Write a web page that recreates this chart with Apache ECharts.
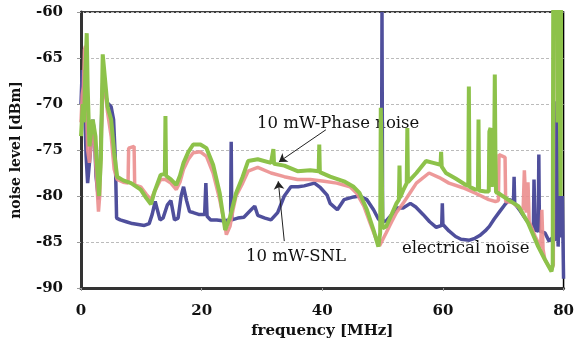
<!DOCTYPE html>
<html><head><meta charset="utf-8">
<script src="https://cdn.jsdelivr.net/npm/echarts@6/dist/echarts.min.js"></script>
<style>html,body{margin:0;padding:0;background:#fff}#c{width:577px;height:347px}</style>
</head><body><div id="c"></div>
<script>
const xTicks = [0, 20, 40, 60, 80];
const yTicks = [-90, -85, -80, -75, -70, -65, -60];

// electrical noise (blue)
const elecF = [0,0.2,0.4,0.6,0.85,1.1,1.4,1.7,1.95,2.2,2.5,2.9,3.2,3.6,3.9,4.4,5.0,5.4,5.7,5.9,6.5,7.5,8.5,9.5,10.5,11.3,11.8,12.3,12.6,13.1,13.6,14.3,14.9,15.5,16.1,16.6,17.0,17.5,18.0,18.6,19.5,20.5,20.7,20.9,21.5,22.5,23.5,24.8,24.9,25.0,26,27,28.2,28.8,29.3,30.5,31.5,32.6,33.7,34.8,36,37,38.7,39.7,40.8,41.3,42.5,43.6,45.2,46.2,47.4,48.5,49.3,49.8,49.9,50.0,50.6,51.8,52.3,53.4,54.6,55.5,56.7,57.8,58.9,59.8,59.9,60.0,61,62.1,63,64.4,65.3,66.1,67,67.7,68.5,69.4,70.2,71,71.7,71.8,71.9,72.8,73.6,74.5,75.0,75.1,75.3,75.8,75.9,76.0,76.9,77.6,78.2,78.7,78.9,79.1,79.3,79.6,79.8,80];
const elecV = [-70,-66.3,-68,-70.6,-75.7,-78.6,-76.4,-74,-71.7,-73,-77.9,-80.4,-76,-67.7,-68.5,-69.9,-70.3,-71.7,-76.1,-82.4,-82.6,-82.8,-83.0,-83.1,-83.2,-83.0,-82,-80.6,-80.4,-82.6,-82.4,-81,-80.5,-82.6,-82.4,-80,-79,-80.5,-81.7,-81.8,-82,-82,-78.6,-82.2,-82.6,-82.6,-82.7,-82.6,-74.1,-82.6,-82.4,-82.3,-81.5,-81.1,-82.1,-82.4,-82.6,-81.8,-80.0,-79.0,-79.0,-78.9,-78.6,-79.1,-79.9,-80.8,-81.5,-80.4,-80.1,-80.0,-80.4,-81.5,-82.5,-82.8,-60,-82.8,-82.7,-81.8,-81.3,-81.3,-80.8,-81.2,-82.0,-82.8,-83.4,-83.2,-80.8,-83.1,-83.8,-84.4,-84.7,-84.8,-84.6,-84.3,-83.8,-83.3,-82.5,-81.7,-81,-80.4,-80.6,-77.9,-80.8,-81.6,-82.4,-83.2,-83.4,-78.2,-83.7,-83.8,-75.5,-83.8,-84.0,-84.9,-84.5,-84.8,-69.7,-85.5,-80,-84.5,-80,-89];

// 10 mW-SNL (red)
const snlF = [0,0.2,0.4,0.57,0.75,0.9,1.1,1.4,1.7,1.95,2.2,2.5,2.9,3.1,3.6,4.0,4.4,5.0,5.5,6.0,7.0,7.8,7.9,8.8,8.9,9.9,10.8,11.6,12.2,13.2,14.0,14.9,15.8,16.4,17.0,17.8,18.6,19.8,20.8,21.9,23.0,23.9,24.1,24.7,25.2,25.7,26.8,27.7,29.3,31.5,33.7,35.9,38,40.3,42.4,44.6,45.7,46.9,47.9,49.0,49.5,50.6,51.5,52.3,53.4,54.5,55.6,57.7,59.4,61,63.3,65.4,67.6,68.7,69.2,69.3,70.3,70.4,71.5,72.5,73.3,73.5,73.8,74.1,74.3,75.3,76.2,76.4,76.6,76.9,77.5,78.0,78.3,78.4,78.8];
const snlV = [-72,-69,-68.1,-64.1,-63.7,-70,-75,-76.4,-74,-72,-73.5,-77.1,-81.7,-80,-68.1,-68.5,-70.9,-73.5,-77.1,-78.2,-78.5,-78.6,-74.8,-74.6,-78.8,-79.0,-79.8,-80.4,-79.5,-78.2,-78.2,-78.6,-79.3,-78.5,-77.1,-76,-75.3,-75.2,-75.7,-77.5,-80.4,-83.3,-84.2,-83.3,-81.5,-80.0,-78.6,-77.3,-76.9,-77.5,-77.9,-78.2,-78.2,-78.4,-78.6,-79.0,-79.7,-81.1,-82.9,-84.8,-85.4,-84.0,-82.8,-81.8,-80.8,-79.7,-78.6,-77.5,-78.0,-78.6,-79.1,-79.7,-80.4,-80.6,-80.5,-75.5,-75.8,-80.6,-80.7,-81.2,-81.5,-77.2,-81.8,-78.5,-82.8,-84.4,-85.6,-81.5,-85.8,-86.9,-87.6,-88.0,-87.5,-55,-55];

// 10 mW-Phase noise (green)
const phaseF = [0,0.3,0.5,0.7,0.95,1.1,1.4,1.7,1.95,2.2,2.4,2.7,3.0,3.3,3.6,3.8,4.4,5.0,5.5,6.0,7.0,8.3,9.9,10.8,11.6,12.2,13.2,13.9,14.0,14.1,14.9,15.8,16.4,17.0,17.8,18.6,19.8,20.8,21.9,23.0,23.9,24.2,24.7,25.7,26.8,27.7,29.3,31.5,31.8,31.9,32.0,33.7,35.9,38,39.4,39.5,39.6,41.3,43.6,45.2,46.2,47.4,48.5,49.3,49.6,49.7,49.9,50.0,50.6,51.5,52.3,52.7,52.8,52.9,53.4,54.0,54.1,54.2,55.6,57.2,58.4,59.6,59.7,59.8,60.5,62.1,63.8,64.2,64.3,64.4,65.4,65.8,65.9,66.0,67.0,67.6,67.7,67.9,68.1,68.5,68.6,68.7,68.8,69.2,70.8,72.5,74.1,75.8,76.9,78.0,78.2,78.3,78.9,79.0,79.2,79.5,79.6,79.8];
const phaseV = [-73.5,-70,-72,-67,-62.3,-68,-74.6,-73,-71.7,-71.5,-73.5,-77.1,-80,-76,-64.6,-66,-70.3,-71.7,-75.3,-77.9,-78.3,-78.6,-79.3,-80.2,-80.9,-79.5,-77.7,-77.6,-71.3,-77.8,-78.2,-78.8,-77.8,-76.4,-75.2,-74.4,-74.4,-74.8,-76.6,-79.7,-83.7,-83.9,-82.3,-79.7,-77.9,-76.2,-76.0,-76.4,-76.4,-74.9,-76.5,-76.7,-77.3,-77.2,-77.3,-74.4,-77.4,-77.9,-78.4,-79.0,-79.7,-81.5,-83.7,-85.5,-84,-70.4,-70.4,-83.5,-83.3,-82,-80.8,-80.4,-76.7,-80.2,-79.4,-78.6,-72.6,-78.5,-77.5,-76.2,-76.4,-76.6,-75.2,-76.8,-77.5,-78.1,-78.8,-78.9,-68.1,-79.0,-79.3,-79.3,-71.7,-79.4,-79.5,-79.5,-73,-72.6,-79,-75,-66.8,-75,-79.6,-79.7,-80.4,-81.1,-82.9,-85.5,-86.9,-88.2,-87.5,-55,-55,-72,-55,-80,-55,-55];

const pairs = (f, v) => f.map((x, i) => [x, v[i]]);
const serifB = 'DejaVu Serif';

const chart = echarts.init(document.getElementById('c'), null, {renderer: 'canvas'});
chart.setOption({
  animation: false,
  backgroundColor: '#fff',
  grid: {left: 81, right: 9, top: 12, bottom: 59, show: true, borderColor: '#000', borderWidth: 1.5, backgroundColor: 'transparent'},
  xAxis: {
    type: 'value', min: xTicks[0], max: xTicks[xTicks.length - 1], interval: 20,
    name: 'frequency [MHz]', nameLocation: 'middle', nameGap: 34,
    nameTextStyle: {fontFamily: serifB, fontWeight: 'bold', fontSize: 15, color: '#111'},
    axisLine: {show: true, lineStyle: {color: '#333', width: 3}},
    axisTick: {show: true, length: 3, lineStyle: {color: '#999'}},
    axisLabel: {margin: 16, fontFamily: serifB, fontWeight: 'bold', fontSize: 15, color: '#111'},
    splitLine: {show: false}
  },
  yAxis: {
    type: 'value', min: yTicks[0], max: yTicks[yTicks.length - 1], interval: 5,
    name: 'noise level [dBm]', nameLocation: 'middle', nameGap: 58,
    nameTextStyle: {fontFamily: serifB, fontWeight: 'bold', fontSize: 14, color: '#111'},
    axisLine: {show: true, lineStyle: {color: '#333', width: 3}},
    axisTick: {show: true, length: 4, lineStyle: {color: '#999'}},
    axisLabel: {margin: 18, fontFamily: serifB, fontWeight: 'bold', fontSize: 15, color: '#111'},
    splitLine: {show: true, lineStyle: {color: '#bbb', type: [3, 2], width: 1}}
  },
  series: [
    {name: 'electrical noise', type: 'line', data: pairs(elecF, elecV), showSymbol: false, clip: true,
     lineStyle: {color: '#4F4F9C', width: 3.5}, z: 2},
    {name: '10 mW-SNL', type: 'line', data: pairs(snlF, snlV), showSymbol: false, clip: true,
     lineStyle: {color: '#EB8E8E', width: 3.5, opacity: 0.9}, z: 3},
    {name: '10 mW-Phase noise', type: 'line', data: pairs(phaseF, phaseV), showSymbol: false, clip: true,
     lineStyle: {color: '#8DC24A', width: 4}, z: 4,
     markLine: {
       silent: true, symbol: ['none', 'arrow'], symbolSize: 8, label: {show: false},
       lineStyle: {color: '#222', width: 1, type: 'solid'},
       data: [
         [{coord: [40.6, -72.8]}, {coord: [32.8, -76.3]}],
         [{coord: [33.7, -84.9]}, {coord: [32.7, -78.4]}]
       ]
     }}
  ],
  graphic: [
    {type: 'text', left: 257, top: 115, style: {text: '10 mW-Phase noise', fontFamily: serifB, fontSize: 16.5, fill: '#111'}},
    {type: 'text', left: 246, top: 248, style: {text: '10 mW-SNL', fontFamily: serifB, fontSize: 16.5, fill: '#111'}},
    {type: 'text', left: 402, top: 240, style: {text: 'electrical noise', fontFamily: serifB, fontSize: 16.5, fill: '#111'}}
  ]
});
</script></body></html>
